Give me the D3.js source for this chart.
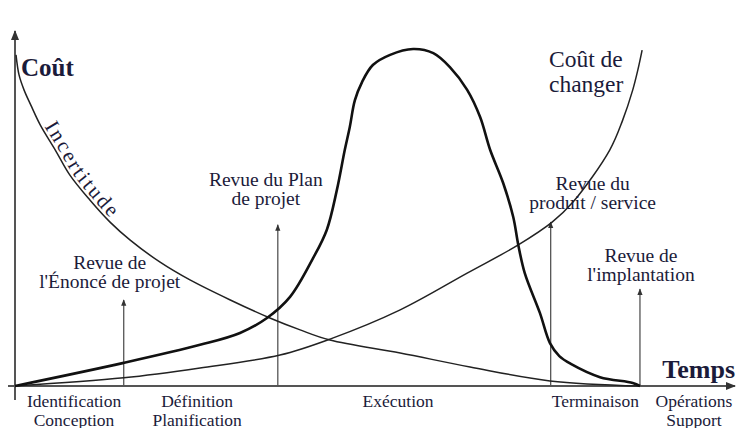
<!DOCTYPE html>
<html>
<head>
<meta charset="utf-8">
<script src="https://cdn.jsdelivr.net/npm/d3@7"></script>
<style>
  body { margin: 0; background: #fff; }
  svg { display: block; }
  text { font-family: "Liberation Serif", "Times New Roman", serif; fill: #1b1b3a; }
</style>
</head>
<body>
<svg></svg>
<script>
// courbes : [temps, coût], temps et coût sur 0-100
const incertitude = [
  [0.14, 97.4], [0.56, 91.5], [1.25, 87.1], [2.2, 82.6], [3.5, 76.8], [5.6, 69.4],
  [7.6, 62.1], [10.4, 54.7], [13.2, 48.2], [16, 42.9], [20.1, 36.5], [24.3, 31.2],
  [29.9, 25.3], [35.4, 20], [39.6, 16.5], [43.75, 13.5], [53.5, 9.7], [63.2, 5.6],
  [74.3, 1.5], [86.8, 0]
];
const coutChanger = [
  [0, 0], [15.1, 2.4], [25.7, 5.3], [36.8, 9.1], [43.75, 13.8], [53.5, 22.4],
  [62.8, 33.2], [69.9, 41.5], [74.6, 48.2], [77.5, 54.1], [82.6, 69.4],
  [84.4, 78.2], [85.8, 87.1], [86.5, 92.9], [87.1, 98.8]
];
const effort = [
  [0, 0], [15.1, 6.8], [25.7, 12.1], [31.25, 15.6], [35, 20], [38.2, 26.2],
  [41.4, 37.6], [43.3, 45.9], [44.7, 57.6], [45.8, 69.4], [46.5, 76.2],
  [47.2, 84], [48.2, 89.4], [49.7, 94.4], [52.1, 97.4], [55.3, 99.1],
  [58.1, 97.9], [60.4, 93.8], [62.8, 87.1], [64.6, 79.1], [66, 69.4],
  [67.8, 59.7], [69.2, 49.7], [69.9, 41.5], [70.8, 33.2], [72.9, 21.5],
  [74.3, 12.6], [75.6, 8.8], [77.2, 6.5], [81.25, 2.6], [85.8, 0.9], [86.8, 0]
];

// phases du projet (sous l'axe)
const phaseNoms = [
  ["Identification", "Conception"],
  ["Définition", "Planification"],
  ["Exécution"],
  ["Terminaison"],
  ["Opérations", "Support"]
];
const phaseCentres = [8.2, 25.3, 53.2, 80.6, 94.3];

// revues (flèches)
const revueNoms = [
  ["Revue de", "l'Énoncé de projet"],
  ["Revue du Plan", "de projet"],
  ["Revue du", "produit / service"],
  ["Revue de", "l'implantation"]
];
const revueTemps = [15.1, 36.5, 74.4, 86.8];
const revueHaut = [25.3, 47.4, 48.2, 28.5];

// décalage des étiquettes de revue (px)
const revueDx = [-14, -12, 42, 1];
const revueDy = [12, 20, 13, 8];

const width = 739;
const height = 428;

const svg = d3.select("svg")
  .attr("width", width)
  .attr("height", height);

const x = d3.scaleLinear().domain([0, 100]).range([15, 735]);
const y = d3.scaleLinear().domain([0, 100]).range([386, 46]);

// flèches
const defs = svg.append("defs");
defs.append("marker")
  .attr("id", "pointe")
  .attr("viewBox", "0 0 10 10")
  .attr("refX", 9).attr("refY", 5)
  .attr("markerWidth", 5).attr("markerHeight", 5)
  .attr("orient", "auto")
  .append("path")
  .attr("d", "M0,1L10,5L0,9Z")
  .attr("fill", "#333");

// axes
svg.append("line")
  .attr("x1", 8).attr("x2", x(100))
  .attr("y1", y(0)).attr("y2", y(0))
  .attr("stroke", "#555").attr("stroke-width", 2)
  .attr("marker-end", "url(#pointe)");
svg.append("line")
  .attr("x1", x(0)).attr("x2", x(0))
  .attr("y1", 400).attr("y2", 31)
  .attr("stroke", "#555").attr("stroke-width", 2)
  .attr("marker-end", "url(#pointe)");

// flèches des revues
svg.selectAll(".revue")
  .data(revueTemps)
  .enter()
  .append("line")
  .attr("class", "revue")
  .attr("x1", d => x(d)).attr("x2", d => x(d))
  .attr("y1", y(0))
  .attr("y2", (d, i) => y(revueHaut[i]))
  .attr("stroke", "#555").attr("stroke-width", 1.3)
  .attr("marker-end", "url(#pointe)");

const line = d3.line()
  .x(d => x(d[0]))
  .y(d => y(d[1]))
  .curve(d3.curveCatmullRom.alpha(0.5));

svg.append("path")
  .attr("id", "incertitude")
  .attr("d", line(incertitude))
  .attr("fill", "none").attr("stroke", "#222").attr("stroke-width", 1.5);

svg.append("path")
  .attr("d", line(coutChanger))
  .attr("fill", "none").attr("stroke", "#222").attr("stroke-width", 1.5);

svg.append("path")
  .attr("d", line(effort))
  .attr("fill", "none").attr("stroke", "#111").attr("stroke-width", 2.6);

// texte le long de la courbe
svg.append("text")
  .attr("font-size", 21)
  .attr("dy", -3)
  .append("textPath")
  .attr("href", "#incertitude")
  .attr("startOffset", 78)
  .attr("textLength", 114)
  .attr("lengthAdjust", "spacing")
  .text("Incertitude");

// titres
svg.append("text")
  .attr("x", 21).attr("y", 76)
  .attr("font-size", 25).attr("font-weight", "bold")
  .text("Coût");

svg.append("text")
  .attr("x", 735).attr("y", 378)
  .attr("text-anchor", "end")
  .attr("font-size", 26).attr("font-weight", "bold")
  .text("Temps");

svg.append("text")
  .attr("x", 549).attr("y", 67)
  .attr("font-size", 23.5)
  .selectAll("tspan")
  .data(["Coût de", "changer"])
  .enter()
  .append("tspan")
  .attr("x", 549)
  .attr("dy", (d, i) => i ? 24.5 : 0)
  .text(d => d);

// étiquettes des phases
const phase = svg.selectAll(".phase")
  .data(phaseNoms)
  .enter()
  .append("text")
  .attr("class", "phase")
  .attr("text-anchor", "middle")
  .attr("font-size", 17.5)
  .attr("x", (d, i) => x(phaseCentres[i]))
  .attr("y", 407);

phase.selectAll("tspan")
  .data((d, i) => d.map(t => ({ t, i })))
  .enter()
  .append("tspan")
  .attr("x", d => x(phaseCentres[d.i]))
  .attr("dy", (d, j) => j ? 18.5 : 0)
  .text(d => d.t);

// étiquettes des revues
const revue = svg.selectAll(".revueLabel")
  .data(revueNoms)
  .enter()
  .append("text")
  .attr("class", "revueLabel")
  .attr("text-anchor", "middle")
  .attr("font-size", 19.5)
  .attr("y", (d, i) => y(revueHaut[i]) - revueDy[i] - 19);

revue.selectAll("tspan")
  .data((d, i) => d.map(t => ({ t, i })))
  .enter()
  .append("tspan")
  .attr("x", d => x(revueTemps[d.i]) + revueDx[d.i])
  .attr("dy", (d, j) => j ? 19 : 0)
  .text(d => d.t);
</script>
</body>
</html>
